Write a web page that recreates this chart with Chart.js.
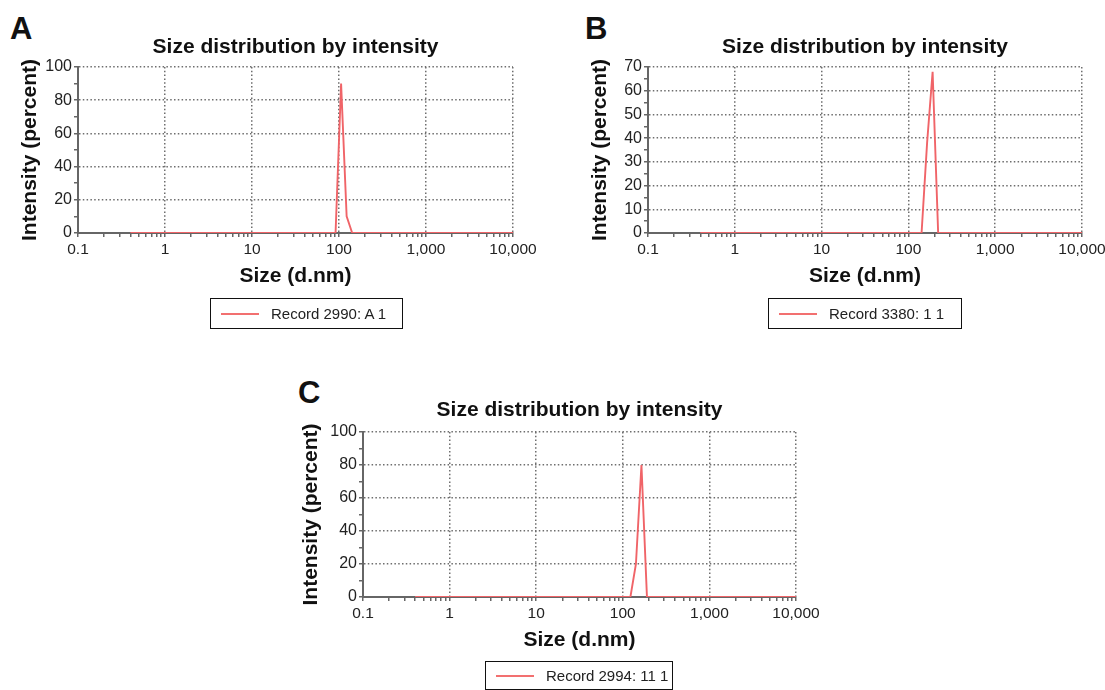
<!DOCTYPE html>
<html><head><meta charset="utf-8">
<script src="https://cdn.jsdelivr.net/npm/chart.js@4.4.0/dist/chart.umd.min.js"></script>
<style>
html,body{margin:0;padding:0;background:#fff;}
body{width:1105px;height:690px;overflow:hidden;position:relative;font-family:"Liberation Sans",Arial,sans-serif;}
canvas{position:absolute;}
.letter{position:absolute;font-weight:bold;font-size:31px;line-height:31px;color:#111;}
.legend{position:absolute;border:1.5px solid #111;box-sizing:border-box;font-size:15px;color:#222;display:flex;align-items:center;white-space:nowrap;}
.legend .swatch{display:inline-block;width:38px;height:2px;background:rgb(242,112,112);margin:0 12px 0 10px;}
</style></head>
<body>
<div class="letter" id="LA" style="left:10px;top:13px"></div>
<div class="letter" id="LB" style="left:585px;top:13px"></div>
<div class="letter" id="LC" style="left:298px;top:377px"></div>
<canvas id="cA" width="553" height="300" style="left:0px;top:0px"></canvas>
<canvas id="cB" width="545" height="300" style="left:570px;top:0px"></canvas>
<canvas id="cC" width="551" height="299" style="left:285px;top:365px"></canvas>
<div class="legend" id="gA" style="left:210px;top:298px;width:193px;height:31px"><span class="swatch"></span><span class="txt"></span></div>
<div class="legend" id="gB" style="left:768px;top:298px;width:194px;height:31px"><span class="swatch"></span><span class="txt"></span></div>
<div class="legend" id="gC" style="left:485px;top:661px;width:188px;height:29px"><span class="swatch"></span><span class="txt"></span></div>
<script>
// ---- data ----
const sizeA = [0.4, 91.28, 105.7, 122.4, 141.8, 10000];
const intensityA = [0, 0, 90, 10, 0, 0];
const sizeB = [0.4, 141.8, 164.2, 190.1, 220.2, 10000];
const intensityB = [0, 0, 38, 68, 0, 0];
const sizeC = [0.4, 122.4, 141.8, 164.2, 190.1, 10000];
const intensityC = [0, 0, 20, 80, 0, 0];
const xMajorTicks = [0.1, 1, 10, 100, 1000, 10000];
const xTickLabels = ['0.1', '1', '10', '100', '1,000', '10,000'];
const yMaxA = 100, yMaxB = 70, yMaxC = 100;
const yLabelStepA = 20, yLabelStepB = 10, yLabelStepC = 20;
const legendLabels = ['Record 2990: A 1', 'Record 3380: 1 1', 'Record 2994: 11 1'];
const panelLetters = ['A', 'B', 'C'];
const chartTitle = 'Size distribution by intensity';
const xTitle = 'Size (d.nm)';
const yTitle = 'Intensity (percent)';

// minor tick positions on the log axis (1..9 per decade)
const xTickValues = [];
for (let d = 0; d < xMajorTicks.length; d++) {
  const m = xMajorTicks[d];
  xTickValues.push(m);
  if (d < xMajorTicks.length - 1) {
    for (let k = 2; k <= 9; k++) xTickValues.push(parseFloat((m * k).toPrecision(6)));
  }
}

Chart.defaults.font.family = '"Liberation Sans", Arial, sans-serif';
Chart.defaults.color = '#222';

const GRID = '#6e6e6e';
const AXIS = '#666';
const RED = 'rgb(240,100,104)';

function isMajorX(v) { return xMajorTicks.findIndex(m => Math.abs(m - v) / m < 1e-6); }

function makeChart(id, sizes, vals, yMax, labelStep, opt) {
  const pts = sizes.map((s, i) => ({x: s, y: vals[i]}));
  return new Chart(document.getElementById(id), {
    type: 'line',
    data: { datasets: [{ data: pts, borderColor: RED, borderWidth: 1.9, pointRadius: 0, tension: 0, fill: false }] },
    options: {
      responsive: false, animation: false, devicePixelRatio: 1,
      layout: { padding: { left: 0, right: opt.pr, top: 0, bottom: 0 } },
      plugins: {
        legend: { display: false }, tooltip: { enabled: false },
        title: { display: true, text: chartTitle, fullSize: false, color: '#111',
                 font: { size: 21, weight: 'bold' }, padding: { top: opt.tt, bottom: opt.tb } }
      },
      scales: {
        x: {
          type: 'logarithmic', min: 0.1, max: 10000,
          afterBuildTicks: s => { s.ticks = xTickValues.map(v => ({ value: v })); },
          afterFit: s => { s.height = opt.xh; },
          ticks: { autoSkip: false, maxRotation: 0, minRotation: 0, padding: 3, color: '#222',
                   font: { size: 15.5 },
                   callback: v => { const i = isMajorX(v); return i >= 0 ? xTickLabels[i] : ''; } },
          grid: { color: c => { const i = c.tick ? isMajorX(c.tick.value) : -1; return i > 0 ? GRID : 'rgba(0,0,0,0)'; },
                  lineWidth: 1.5, tickColor: AXIS, tickLength: 4, tickWidth: 1.5 },
          border: { display: true, color: AXIS, width: 2, dash: [1.5, 2.3] },
          title: { display: true, text: xTitle, color: '#111', font: { size: 21, weight: 'bold' },
                   padding: { top: 0, bottom: opt.xtb } }
        },
        y: {
          type: 'linear', min: 0, max: yMax,
          afterFit: s => { s.width = 78; },
          ticks: { autoSkip: false, stepSize: labelStep / 2, padding: 2, color: '#222', font: { size: 16 },
                   callback: v => (v % labelStep === 0 ? String(v) : '') },
          grid: { color: c => (c.tick && c.tick.value > 0 && c.tick.value % labelStep === 0 ? GRID : 'rgba(0,0,0,0)'),
                  lineWidth: 1.5, tickColor: AXIS, tickLength: 4, tickWidth: 1.5 },
          border: { display: true, color: AXIS, width: 2, dash: [1.5, 2.3] },
          title: { display: true, text: yTitle, color: '#111', font: { size: 21, weight: 'bold' },
                   padding: { top: opt.ytp, bottom: 0 } }
        }
      }
    }
  });
}

makeChart('cA', sizeA, intensityA, yMaxA, yLabelStepA, { pr: 40, tt: 34.4, tb: 7.4, xh: 67, xtb: 11, ytp: 18 });
makeChart('cB', sizeB, intensityB, yMaxB, yLabelStepB, { pr: 33, tt: 34.4, tb: 7.4, xh: 67, xtb: 11, ytp: 18 });
makeChart('cC', sizeC, intensityC, yMaxC, yLabelStepC, { pr: 40, tt: 32.4, tb: 9.4, xh: 67, xtb: 11.4, ytp: 13.4 });

['A', 'B', 'C'].forEach((k, i) => {
  document.getElementById('L' + k).textContent = panelLetters[i];
  document.querySelector('#g' + k + ' .txt').textContent = legendLabels[i];
});
</script>
</body></html>
